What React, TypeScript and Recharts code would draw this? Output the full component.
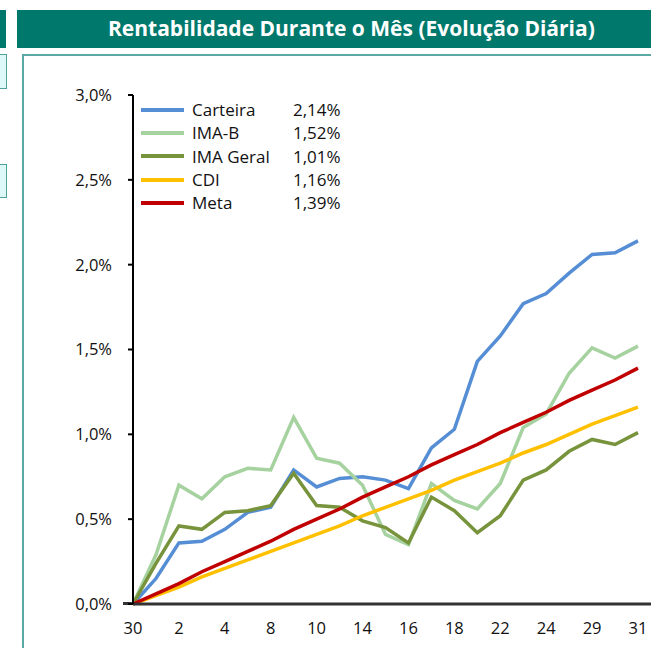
import { LineChart, Line, XAxis, YAxis } from "recharts";

const dias = ["30", "1", "2", "3", "4", "7", "8", "9", "10", "11", "14", "15", "16", "17", "18", "21", "22", "23", "24", "25", "29", "30", "31"];

const carteira = [0, 0.15, 0.36, 0.37, 0.44, 0.54, 0.57, 0.79, 0.69, 0.74, 0.75, 0.73, 0.68, 0.92, 1.03, 1.43, 1.58, 1.77, 1.83, 1.95, 2.06, 2.07, 2.14];
const imaB = [0, 0.29, 0.7, 0.62, 0.75, 0.8, 0.79, 1.1, 0.86, 0.83, 0.7, 0.41, 0.35, 0.71, 0.61, 0.56, 0.71, 1.04, 1.12, 1.36, 1.51, 1.45, 1.52];
const imaGeral = [0, 0.24, 0.46, 0.44, 0.54, 0.55, 0.58, 0.77, 0.58, 0.57, 0.49, 0.45, 0.36, 0.63, 0.55, 0.42, 0.52, 0.73, 0.79, 0.9, 0.97, 0.94, 1.01];
const cdi = [0, 0.05, 0.1, 0.16, 0.21, 0.26, 0.31, 0.36, 0.41, 0.46, 0.52, 0.57, 0.62, 0.67, 0.73, 0.78, 0.83, 0.89, 0.94, 1.0, 1.06, 1.11, 1.16];
const meta = [0, 0.06, 0.12, 0.19, 0.25, 0.31, 0.37, 0.44, 0.5, 0.56, 0.63, 0.69, 0.75, 0.82, 0.88, 0.94, 1.01, 1.07, 1.13, 1.2, 1.26, 1.32, 1.39];

const yTicks = [0, 0.5, 1, 1.5, 2, 2.5, 3];

const series = [
  { key: "carteira", name: "Carteira", color: "#558ED5", total: "2,14%" },
  { key: "imaB", name: "IMA-B", color: "#A6D2A0", total: "1,52%" },
  { key: "imaGeral", name: "IMA Geral", color: "#77933C", total: "1,01%" },
  { key: "cdi", name: "CDI", color: "#FFC000", total: "1,16%" },
  { key: "meta", name: "Meta", color: "#C00000", total: "1,39%" },
];

const data = dias.map((dia, i) => ({
  dia,
  carteira: carteira[i],
  imaB: imaB[i],
  imaGeral: imaGeral[i],
  cdi: cdi[i],
  meta: meta[i],
}));

const font = "'Open Sans', sans-serif";
const fmt = (v: number) => `${v.toFixed(1).replace(".", ",")}%`;

function LegendBox() {
  return (
    <div style={{ position: "absolute", left: 141, top: 98, fontFamily: font, fontSize: 17, color: "#111" }}>
      {series.map((s) => (
        <div key={s.key} style={{ display: "flex", alignItems: "center", height: 23.3 }}>
          <span style={{ width: 43, height: 4, background: s.color, marginRight: 8 }} />
          <span style={{ width: 101 }}>{s.name}</span>
          <span>{s.total}</span>
        </div>
      ))}
    </div>
  );
}

export default function App() {
  return (
    <div style={{ position: "absolute", left: 0, top: 0, width: 651, height: 648, overflow: "hidden", background: "#fff" }}>
      {/* pedaços do painel vizinho */}
      <div style={{ position: "absolute", left: 0, top: 10, width: 6, height: 38, background: "#00786C" }} />
      <div style={{ position: "absolute", left: -2, top: 54, width: 7, height: 33, background: "#DDF8F6", border: "1px solid #4CA39B" }} />
      <div style={{ position: "absolute", left: -2, top: 164, width: 7, height: 32, background: "#DDF8F6", border: "1px solid #4CA39B" }} />

      <div style={{ position: "absolute", left: 17, top: 10, width: 660, height: 38, background: "#00786C", color: "#fff", fontFamily: font, fontWeight: 700, fontSize: 21 }}>
        <div style={{ position: "absolute", left: 91, top: 4, whiteSpace: "nowrap" }}>Rentabilidade Durante o Mês (Evolução Diária)</div>
      </div>
      <div style={{ position: "absolute", left: 22, top: 54, width: 700, height: 700, border: "2px solid #5AAAA3" }} />

      <div style={{ position: "absolute", left: 123, top: 602, width: 12, height: 3, background: "#333" }} />

      <div style={{ position: "absolute", left: 0, top: 0 }}>
        <LineChart width={672} height={648} data={data} margin={{ top: 95, right: 5, bottom: 14, left: 33 }}>
          <XAxis
            dataKey="dia"
            interval={1}
            height={30}
            padding={{ left: 0, right: 29 }}
            axisLine={{ stroke: "#333", strokeWidth: 3 }}
            tickLine={false}
            tickSize={0}
            tickMargin={18}
            tick={{ fontSize: 16.5, fill: "#111", fontFamily: font }}
          />
          <YAxis
            width={100}
            domain={[0, 3]}
            ticks={yTicks}
            tickFormatter={fmt}
            axisLine={{ stroke: "#000", strokeWidth: 2 }}
            tickLine={{ stroke: "#000", strokeWidth: 2 }}
            tickSize={5}
            tickMargin={16}
            tick={{ fontSize: 16.5, fill: "#111", fontFamily: font }}
          />
          {series.map((s) => (
            <Line
              key={s.key}
              dataKey={s.key}
              name={s.name}
              stroke={s.color}
              strokeWidth={3.5}
              dot={false}
              activeDot={false}
              isAnimationActive={false}
            />
          ))}
        </LineChart>
      </div>
      <LegendBox />
    </div>
  );
}
